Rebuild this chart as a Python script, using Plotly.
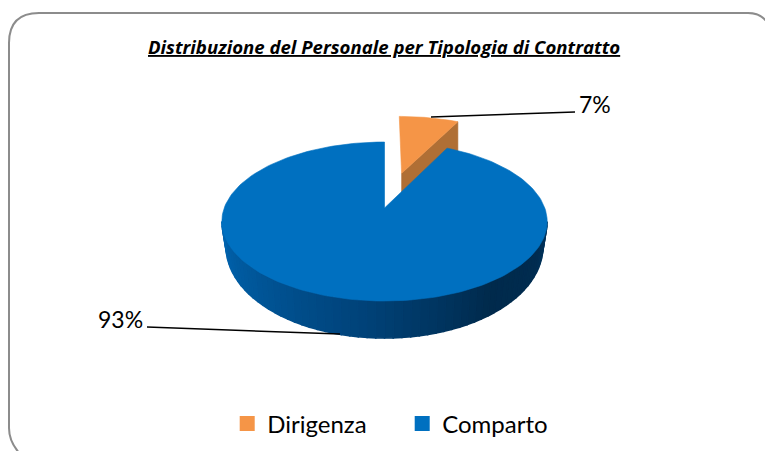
import numpy as np
import plotly.graph_objects as go

# ---- data ----
categories = ["Dirigenza", "Comparto"]
values = [7, 93]
top_colors = ["#F59547", "#0070C0"]
cut_color = "#B06F35"
wall_positions = [0.0, 0.2, 0.45, 0.72, 0.88, 1.0]
wall_colors = ["#0063AE", "#00579A", "#00437A", "#002A4C", "#002C50", "#003560"]
title_text = "Distribuzione del Personale per Tipologia di Contratto"

# ---- projection of the pie plane onto the picture (pixel-like axes) ----
CX, K = 384.5, 0.17
EXPLODE = 0.5
ANGLE_WARP = 1.06  # the 3D view widens angles near the back of the pie
CUT_DEPTH = (18.7, 29.0)

def project(u, v, a, b, y0):
    d = 1 + K * v
    return CX + a * u / d, y0 - b * v / d

def top(u, v):
    return project(u, v, 160.3, 77.2, 208.0)

def low(u, v):
    return project(u, v, 156.0, 88.4, 231.5)

fractions = np.array(values, dtype=float) / sum(values)
theta_1 = 2 * np.pi * fractions[0] * ANGLE_WARP

def poly(x, y, color, width=0.6):
    return go.Scatter(x=x, y=y, mode="lines", fill="toself", fillcolor=color,
                      line=dict(color=color, width=width), hoverinfo="skip", showlegend=False)

def hex_rgb(h):
    return np.array([int(h[i:i + 2], 16) for i in (1, 3, 5)], dtype=float)

def wall_color(t):
    rgb = [np.interp(t, wall_positions, [hex_rgb(c)[i] for c in wall_colors]) for i in range(3)]
    return "rgb(%d,%d,%d)" % tuple(int(round(c)) for c in rgb)

fig = go.Figure()

# exploded slice: cut face, then top face
mid = theta_1 / 2
ex_u, ex_v = EXPLODE * np.sin(mid), EXPLODE * np.cos(mid)
tip_u, tip_v = ex_u + np.sin(theta_1), ex_v + np.cos(theta_1)
xa, ya = top(ex_u, ex_v)
xt, yt = top(tip_u, tip_v)
fig.add_trace(poly([xa, xt, xt, xa, xa],
                   [ya, yt, yt + CUT_DEPTH[1], ya + CUT_DEPTH[0], ya], cut_color))

arc = np.linspace(0, theta_1, 30)
xs, ys = top(ex_u + np.sin(arc), ex_v + np.cos(arc))
fig.add_trace(poly(np.r_[xa, xs, xa], np.r_[ya, ys, ya], top_colors[0]))

# main slice: front wall in strips, then top face
start = np.pi - np.arcsin(np.sqrt(1 - K ** 2))
angles = np.linspace(start, 2 * np.pi - start, 61)
for i in range(len(angles) - 1):
    th = angles[i:i + 2]
    x1, y1 = top(np.sin(th), np.cos(th))
    x2, y2 = low(np.sin(th[::-1]), np.cos(th[::-1]))
    t = i / (len(angles) - 2)
    # strips run from the right edge to the left edge of the pie
    fig.add_trace(poly(np.r_[x1, x2, x1[0]], np.r_[y1, y2, y1[0]], wall_color(1 - t), width=1.6))

arc = np.linspace(theta_1, 2 * np.pi, 200)
xs, ys = top(np.sin(arc), np.cos(arc))
x0, y0 = top(0.0, 0.0)
fig.add_trace(poly(np.r_[x0, xs, x0], np.r_[y0, ys, y0], top_colors[1]))

# leader lines
for lx, ly in (([431, 575], [117, 112]), ([147, 340], [327, 334])):
    fig.add_trace(go.Scatter(x=lx, y=ly, mode="lines", line=dict(color="black", width=1.5),
                             hoverinfo="skip", showlegend=False))

# legend entries
for name, col in zip(categories, top_colors):
    fig.add_trace(go.Scatter(x=[None], y=[None], mode="markers", name=name,
                             marker=dict(symbol="square", size=15, color=col)))

annotations = [
    dict(x=384, y=46, text="<b><i><u>%s</u></i></b>" % title_text, showarrow=False,
         font=dict(family="Open Sans", size=18.6, color="black")),
    dict(x=594.5, y=104, text="%d%%" % values[0], showarrow=False,
         font=dict(family="Lato", size=23, color="black")),
    dict(x=120, y=319, text="%d%%" % values[1], showarrow=False,
         font=dict(family="Lato", size=23, color="black")),
]
for a in annotations:
    a.update(xref="x", yref="y")

border = "M 768 24 Q 762 13 748 13 L 39 13 Q 9 13 9 43 L 9 428 Q 9 443 22 456"

fig.update_layout(
    width=765, height=451, margin=dict(l=0, r=0, t=0, b=0),
    paper_bgcolor="white", plot_bgcolor="white",
    xaxis=dict(range=[0, 765], visible=False, fixedrange=True),
    yaxis=dict(range=[451, 0], visible=False, fixedrange=True),
    annotations=annotations,
    shapes=[dict(type="path", path=border, xref="x", yref="y",
                 line=dict(color="#8C8C8C", width=2), layer="below")],
    showlegend=True,
    legend=dict(orientation="h", x=0.297, y=0.01, xanchor="left", yanchor="bottom",
                font=dict(family="Lato", size=24, color="black"),
                entrywidth=130, entrywidthmode="pixels", bgcolor="rgba(0,0,0,0)"),
)
fig.write_html("out.html", post_script="document.body.style.margin='0';", config=dict(displayModeBar=False))
